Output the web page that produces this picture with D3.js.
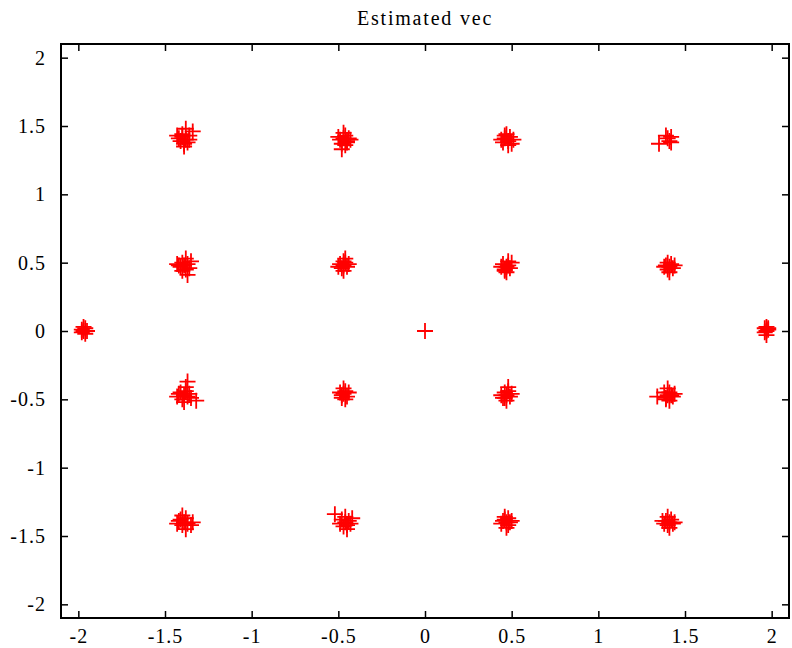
<!DOCTYPE html>
<html>
<head>
<meta charset="utf-8">
<title>Estimated vec</title>
<style>
  body { margin: 0; background: #fff; }
  text { font-family: "Liberation Serif", "Times New Roman", serif; fill: #000; }
</style>
</head>
<body>
<div id="chart"></div>
<script src="https://d3js.org/d3.v7.min.js"></script>
<script>
// ---- data: estimated symbols, grouped by constellation point
var clusterA = [[-1.40,1.42],[-1.38,1.40],[-1.41,1.39],[-1.36,1.43],[-1.39,1.37],[-1.42,1.41],[-1.37,1.38],[-1.40,1.44],[-1.34,1.46],[-1.38,1.48],[-1.43,1.43],[-1.39,1.35],[-1.36,1.40]];
var clusterB = [[-0.47,1.41],[-0.45,1.39],[-0.49,1.40],[-0.46,1.43],[-0.48,1.37],[-0.44,1.41],[-0.50,1.42],[-0.46,1.36],[-0.47,1.45],[-0.43,1.40],[-0.48,1.33],[-0.45,1.38]];
var clusterC = [[0.46,1.41],[0.48,1.39],[0.45,1.38],[0.49,1.42],[0.47,1.44],[0.51,1.40],[0.44,1.40],[0.48,1.36],[0.50,1.37],[0.46,1.43]];
var clusterD = [[1.40,1.41],[1.42,1.42],[1.41,1.39],[1.39,1.43],[1.42,1.38],[1.35,1.37]];
var clusterE = [[-1.39,0.48],[-1.41,0.47],[-1.37,0.49],[-1.40,0.50],[-1.36,0.46],[-1.42,0.48],[-1.38,0.45],[-1.35,0.51],[-1.40,0.44],[-1.37,0.41],[-1.43,0.49],[-1.38,0.53]];
var clusterF = [[-0.47,0.48],[-0.48,0.46],[-0.46,0.50],[-0.45,0.47],[-0.49,0.49],[-0.47,0.44],[-0.46,0.53],[-0.44,0.49],[-0.50,0.47],[-0.47,0.51]];
var clusterG = [[0.47,0.47],[0.46,0.45],[0.48,0.48],[0.45,0.49],[0.49,0.46],[0.47,0.43],[0.50,0.50],[0.44,0.47],[0.48,0.51],[0.46,0.44]];
var clusterH = [[1.41,0.47],[1.39,0.48],[1.43,0.46],[1.40,0.45],[1.42,0.49],[1.38,0.47],[1.44,0.48],[1.41,0.43],[1.40,0.50]];
var clusterI = [[-1.97,0.00],[-1.96,0.02],[-1.98,-0.01],[-1.96,-0.02],[-1.97,0.03],[-1.95,0.00],[-1.98,0.01]];
var clusterJ = [[1.97,0.00],[1.98,0.02],[1.96,-0.01],[1.97,-0.03],[1.98,0.01],[1.96,0.02],[1.97,0.03]];
var clusterK = [[0,0]];
var clusterL = [[-1.39,-0.47],[-1.41,-0.45],[-1.37,-0.48],[-1.40,-0.50],[-1.38,-0.44],[-1.42,-0.46],[-1.36,-0.46],[-1.39,-0.52],[-1.37,-0.37],[-1.38,-0.41],[-1.32,-0.51],[-1.43,-0.48],[-1.35,-0.49]];
var clusterM = [[-0.47,-0.46],[-0.46,-0.44],[-0.48,-0.47],[-0.45,-0.48],[-0.49,-0.45],[-0.47,-0.42],[-0.46,-0.50],[-0.44,-0.45],[-0.48,-0.49]];
var clusterN = [[0.47,-0.47],[0.46,-0.45],[0.49,-0.48],[0.45,-0.49],[0.48,-0.44],[0.50,-0.46],[0.44,-0.47],[0.47,-0.51],[0.48,-0.41],[0.46,-0.49]];
var clusterO = [[1.40,-0.47],[1.41,-0.45],[1.39,-0.49],[1.42,-0.47],[1.38,-0.45],[1.43,-0.48],[1.40,-0.42],[1.41,-0.51],[1.34,-0.48],[1.44,-0.46],[1.39,-0.50]];
var clusterP = [[-1.39,-1.40],[-1.41,-1.38],[-1.37,-1.41],[-1.40,-1.42],[-1.42,-1.39],[-1.38,-1.37],[-1.35,-1.42],[-1.34,-1.40],[-1.40,-1.35],[-1.38,-1.45],[-1.43,-1.41]];
var clusterQ = [[-0.46,-1.40],[-0.48,-1.38],[-0.45,-1.42],[-0.47,-1.43],[-0.44,-1.39],[-0.49,-1.41],[-0.43,-1.41],[-0.46,-1.36],[-0.52,-1.34],[-0.45,-1.45],[-0.42,-1.37]];
var clusterR = [[0.47,-1.40],[0.45,-1.39],[0.48,-1.42],[0.46,-1.38],[0.49,-1.40],[0.44,-1.41],[0.47,-1.44],[0.50,-1.39],[0.46,-1.36],[0.48,-1.37]];
var clusterS = [[1.41,-1.40],[1.39,-1.39],[1.43,-1.41],[1.40,-1.42],[1.42,-1.38],[1.38,-1.41],[1.44,-1.40],[1.41,-1.44],[1.40,-1.36],[1.37,-1.39]];

var xTicks = [-2, -1.5, -1, -0.5, 0, 0.5, 1, 1.5, 2];
var yTicks = [-2, -1.5, -1, -0.5, 0, 0.5, 1, 1.5, 2];
var titleText = "Estimated vec";

var points = [].concat(clusterA, clusterB, clusterC, clusterD, clusterE, clusterF,
  clusterG, clusterH, clusterI, clusterJ, clusterK, clusterL, clusterM, clusterN,
  clusterO, clusterP, clusterQ, clusterR, clusterS);

//--------------------------------------------------------- layout
var width = 792, height = 648;
var margin = {top: 44, right: 3, bottom: 30, left: 61};
var w = width - margin.left - margin.right;
var h = height - margin.top - margin.bottom;

var svg = d3.select("#chart").append("svg")
  .attr("width", width)
  .attr("height", height);

var g = svg.append("g")
  .attr("transform", "translate(" + margin.left + "," + margin.top + ")");

var x = d3.scaleLinear().domain([-2.1, 2.1]).range([0, w]);
var y = d3.scaleLinear().domain([-2.1, 2.1]).range([h, 0]);

// plain hyphen for negatives, like the original
function fmt(d) { return String(d); }

// axes, MATLAB style: ticks inside on all four sides
var tickLen = 7;
var xb = g.append("g").attr("transform", "translate(0," + h + ")")
  .call(d3.axisBottom(x).tickValues(xTicks).tickSize(-tickLen).tickPadding(11).tickFormat(fmt));
var xt = g.append("g")
  .call(d3.axisTop(x).tickValues(xTicks).tickSize(-tickLen).tickFormat(""));
var yl = g.append("g")
  .call(d3.axisLeft(y).tickValues(yTicks).tickSize(-tickLen).tickPadding(15).tickFormat(fmt));
var yr = g.append("g").attr("transform", "translate(" + w + ",0)")
  .call(d3.axisRight(y).tickValues(yTicks).tickSize(-tickLen).tickFormat(""));

[xb, xt, yl, yr].forEach(function(a) {
  a.attr("font-family", null).attr("font-size", null);
  a.select(".domain").remove();
  a.selectAll(".tick line").attr("stroke", "#000").attr("stroke-width", 1.5);
  a.selectAll("text")
    .style("font-family", "'Liberation Serif', 'Times New Roman', serif")
    .style("font-size", "20px")
    .style("letter-spacing", "1px")
    .attr("fill", "#000");
});

// box
g.append("rect")
  .attr("x", 0).attr("y", 0)
  .attr("width", w).attr("height", h)
  .attr("fill", "none")
  .attr("stroke", "#000")
  .attr("stroke-width", 2);

// '+' markers
var s = 8;
g.append("g").selectAll("path")
  .data(points)
  .enter().append("path")
  .attr("d", function(d) {
    var px = x(d[0]), py = y(d[1]);
    return "M" + (px - s) + "," + py + "H" + (px + s) + "M" + px + "," + (py - s) + "V" + (py + s);
  })
  .attr("fill", "none")
  .attr("stroke", "#ff0000")
  .attr("stroke-width", 1.8);

// title
svg.append("text")
  .attr("x", margin.left + w / 2)
  .attr("y", 25)
  .attr("text-anchor", "middle")
  .style("font-size", "20px")
  .style("letter-spacing", "1.8px")
  .text(titleText);
</script>
</body>
</html>
